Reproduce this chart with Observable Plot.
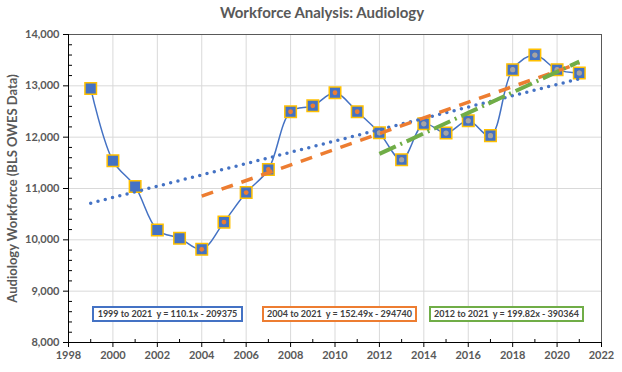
<!DOCTYPE html>
<html><head><meta charset="utf-8">
<script src="https://cdn.jsdelivr.net/npm/d3@7"></script>
<script src="https://cdn.jsdelivr.net/npm/@observablehq/plot@0.6"></script>
<style>
body{margin:0;background:#fff;font-family:Lato, "Open Sans", sans-serif;}
#wrap{position:relative;width:622px;height:372px;}
#title{height:24px;line-height:25px;text-align:center;font-weight:bold;font-size:15px;color:#595959;padding-left:22px;box-sizing:border-box;}
.eq{position:absolute;top:306px;height:12px;border:2px solid;background:#fff;font-size:9px;font-weight:bold;color:#404040;line-height:12px;white-space:pre;text-align:center;}
</style></head>
<body><div id="wrap"><div id="title">Workforce Analysis: Audiology</div><div id="chart"></div></div>
<script>
const years = [1999,2000,2001,2002,2003,2004,2005,2006,2007,2008,2009,2010,2011,2012,2013,2014,2015,2016,2017,2018,2019,2020,2021];
const workforce = [12950,11540,11040,10190,10030,9815,10345,10920,11370,12495,12610,12865,12495,12085,11560,12260,12080,12320,12030,13315,13600,13315,13250];
const trendLabels = ["1999 to 2021","2004 to 2021","2012 to 2021"];
const trendStart = [1999, 2004, 2012];
const trendEnd = [2021, 2021, 2021];
const trendSlope = [110.1, 152.49, 199.82];
const trendIntercept = [-209375, -294740, -390364];
const trendColors = ["#4472C4", "#ED7D31", "#70AD47"];
const xTicks = [1998,2000,2002,2004,2006,2008,2010,2012,2014,2016,2018,2020,2022];
const xMinor = [1999,2001,2003,2005,2007,2009,2011,2013,2015,2017,2019,2021];
const yTicks = [8000,9000,10000,11000,12000,13000,14000];
const yLabel = "Audiology Workforce (BLS OWES Data)";

const rows = years.map((y,i)=>({year:y, value:workforce[i]}));
const trend = (i) => [trendStart[i], trendEnd[i]].map(x => ({year:x, value: trendSlope[i]*x + trendIntercept[i], k:i}));
const yMinor = d3.range(8000, 14001, 200).filter(v => v % 1000 !== 0);

const chart = Plot.plot({
  width: 622, height: 348,
  marginLeft: 68, marginRight: 21, marginTop: 10, marginBottom: 30,
  x: {domain:[1998,2022]},
  y: {domain:[8000,14000]},
  style: {fontFamily:"Lato, 'Open Sans', sans-serif", fontSize:"11px", fontWeight:"bold", color:"#595959", background:"#fff", overflow:"visible"},
  marks: [
    Plot.ruleY(yTicks.slice(1,-1), {stroke:"#d9d9d9", strokeWidth:1}),
    Plot.ruleX(xTicks.slice(1,-1), {stroke:"#d9d9d9", strokeWidth:1}),
    Plot.ruleY([14000], {stroke:"#595959", strokeWidth:1}),
    Plot.ruleX([2022], {stroke:"#595959", strokeWidth:1}),
    Plot.axisY(yTicks, {tickSize:5, tickPadding:4, tickFormat: d3.format(","), stroke:"#000", label:null}),
    Plot.axisY(yMinor, {tickSize:-4, tickFormat: ()=>"", stroke:"#000", label:null}),
    Plot.axisX(xTicks, {tickSize:5, tickPadding:4, tickFormat: d=>String(d), stroke:"#000", label:null}),
    Plot.axisX(xMinor, {tickSize:-3, tickFormat: ()=>"", stroke:"#000", label:null}),
    Plot.ruleY([8000], {stroke:"#000", strokeWidth:1}),
    Plot.ruleX([1998], {stroke:"#000", strokeWidth:1}),
    Plot.text([yLabel], {frameAnchor:"left", textAnchor:"middle", rotate:-90, dx:-56, fontSize:13, fontWeight:"bold", fill:"#595959"}),
    Plot.line(rows, {x:"year", y:"value", curve:"catmull-rom", stroke:"#4472C4", strokeWidth:1.5}),
    Plot.dot(rows, {x:"year", y:"value", symbol:"square", r:6.5, fill:"#4472C4", stroke:"#FFC000", strokeWidth:1.5}),
    Plot.dot(rows.filter(d=>d.year>=2004), {x:"year", y:"value", r:2.4, fill:"#ED7D31", stroke:null}),
    Plot.dot(rows.filter(d=>d.year>=2012), {x:"year", y:"value", r:2.6, fill:"#A5A5A5", stroke:null}),
    Plot.line(trend(0), {x:"year", y:"value", stroke:trendColors[0], strokeWidth:3.5, strokeDasharray:"0 7.5", strokeLinecap:"round"}),
    Plot.line(trend(1), {x:"year", y:"value", stroke:trendColors[1], strokeWidth:3.5, strokeDasharray:"12 9", strokeLinecap:"butt"}),
    Plot.line(trend(2), {x:"year", y:"value", stroke:trendColors[2], strokeWidth:4, strokeDasharray:"18 5 2 5", strokeLinecap:"butt"})
  ]
});
document.getElementById("chart").appendChild(chart);

const boxLeft = [92, 262, 429];
const boxWidth = [151, 155, 155];
const fmt = (i) => `${trendLabels[i]}  y = ${trendSlope[i]}x - ${Math.abs(trendIntercept[i])}`;
const wrap = document.getElementById("wrap");
trendLabels.forEach((t,i)=>{
  const d = document.createElement("div");
  d.className = "eq";
  d.style.left = boxLeft[i] + "px";
  d.style.width = (boxWidth[i]-4) + "px";
  d.style.borderColor = trendColors[i];
  d.textContent = fmt(i);
  wrap.appendChild(d);
});
</script>
</body></html>
